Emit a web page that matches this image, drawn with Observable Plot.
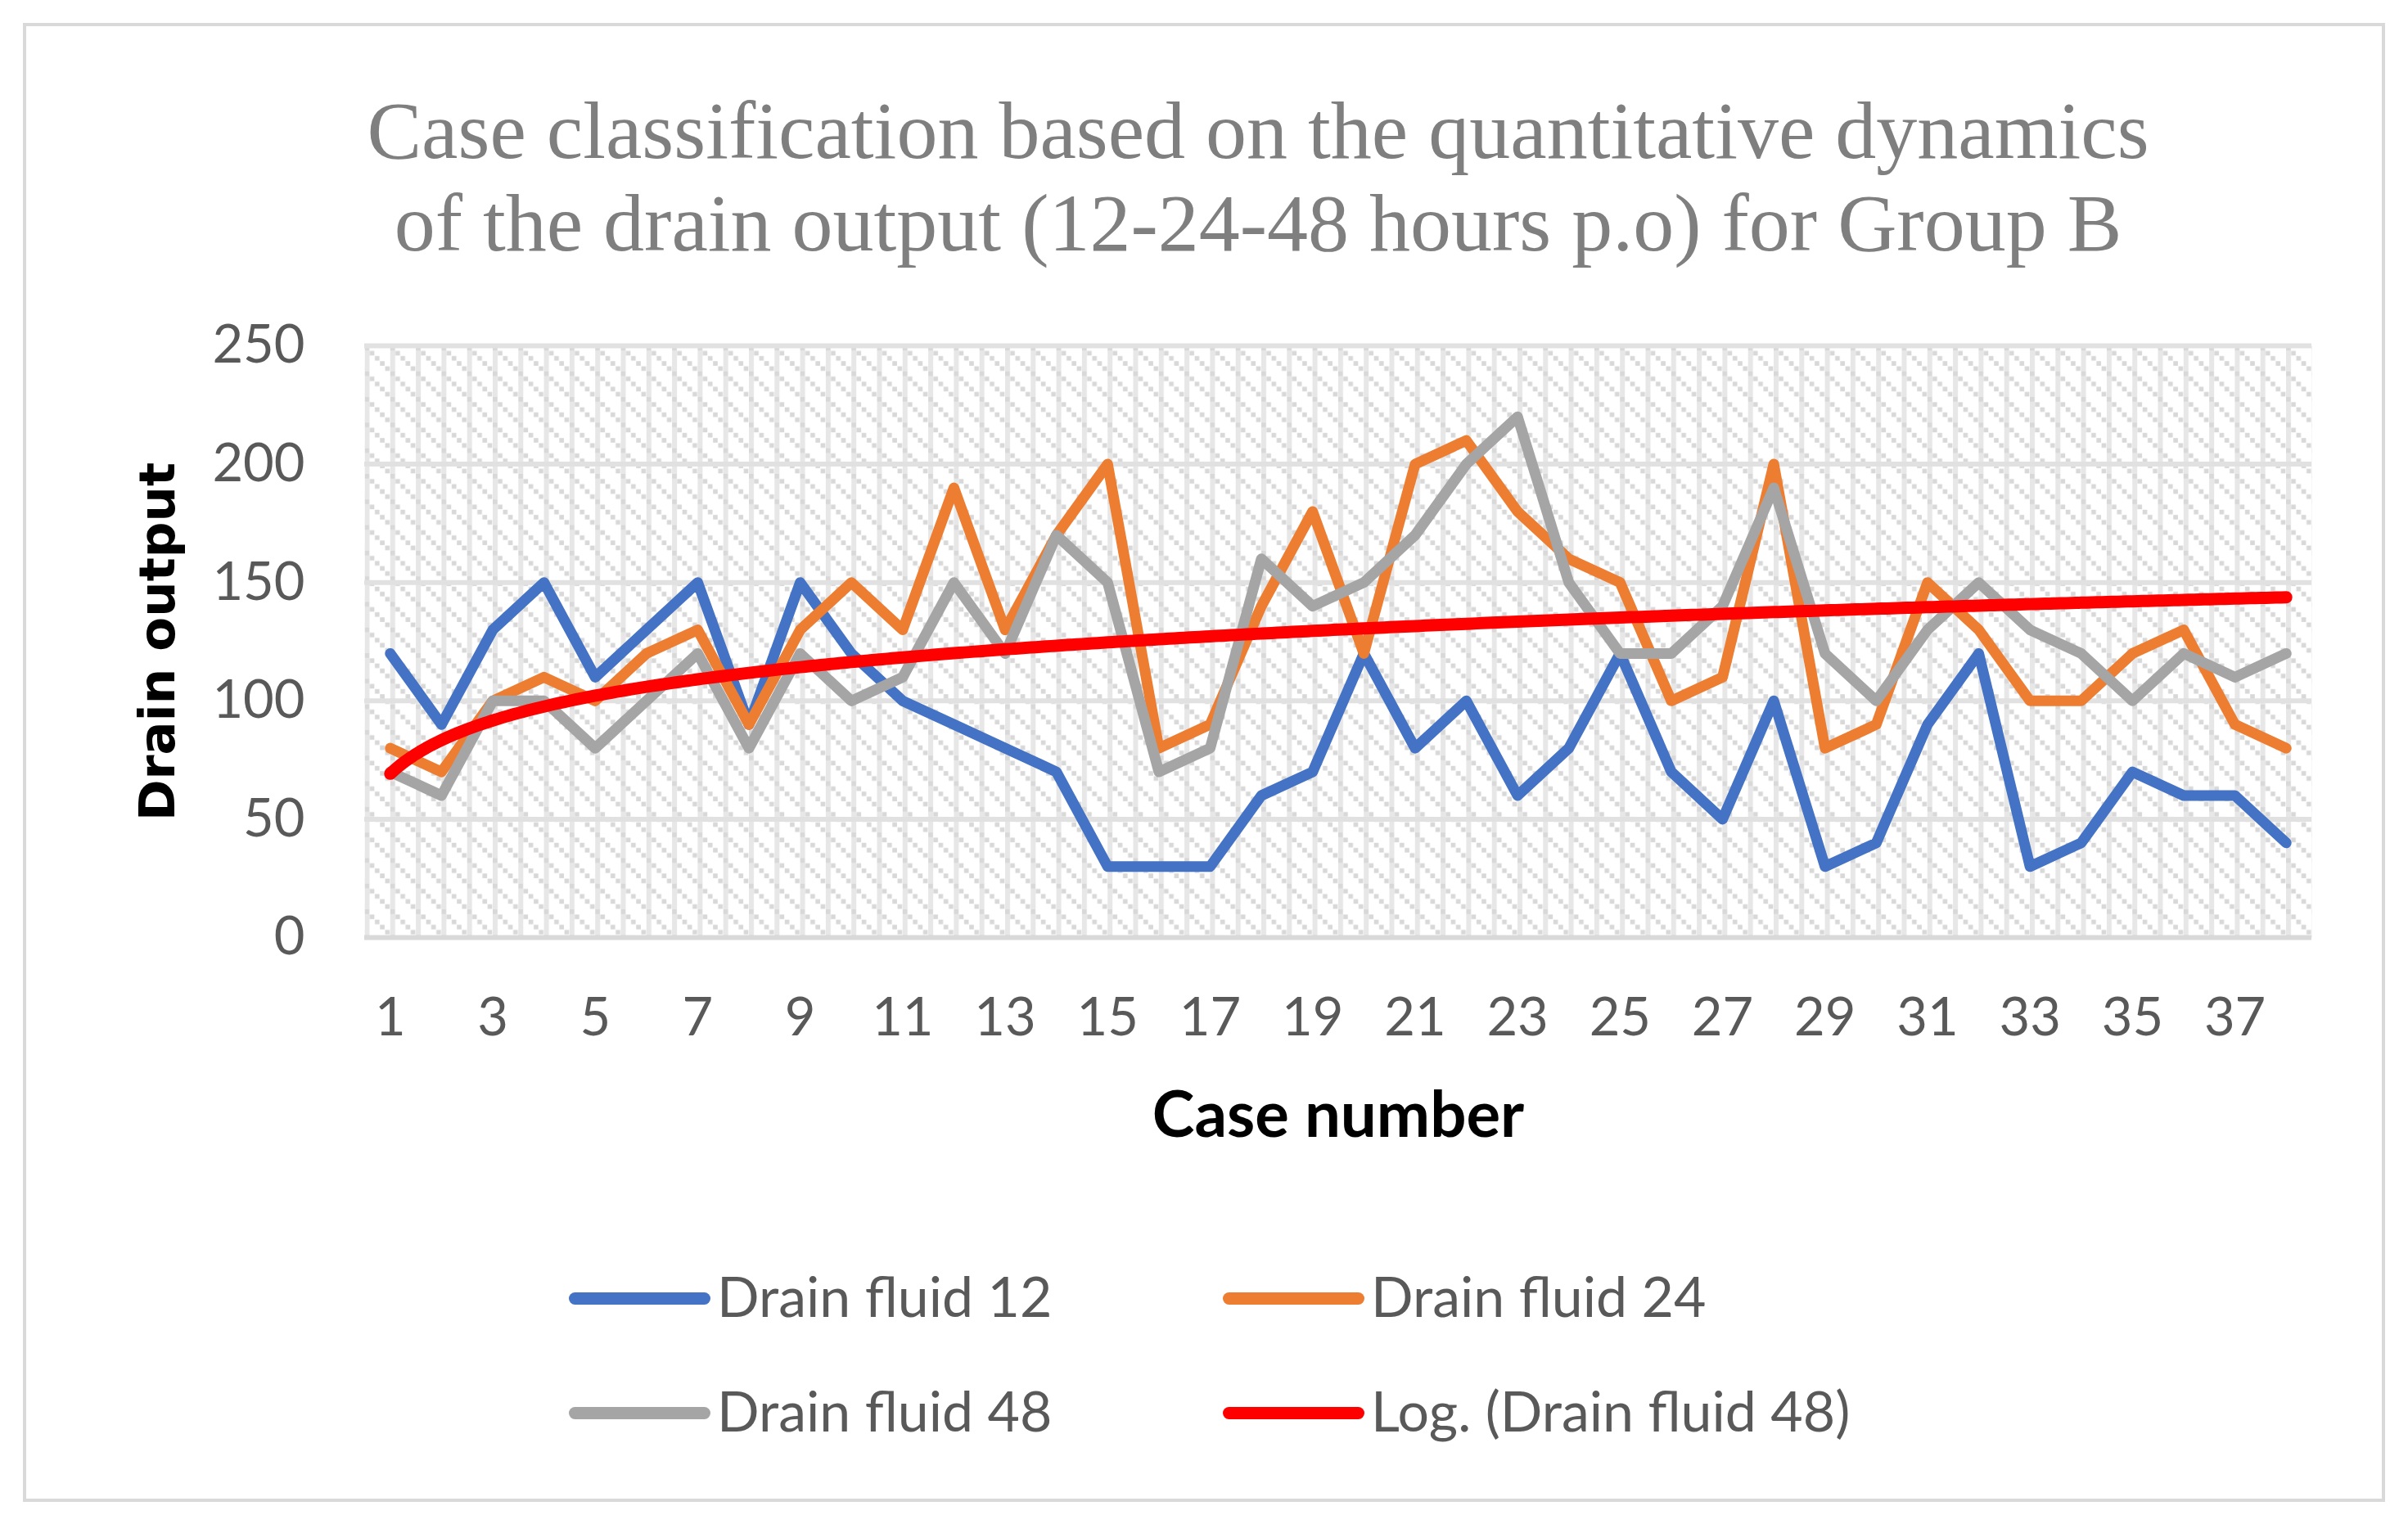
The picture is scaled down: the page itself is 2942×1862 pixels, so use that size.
<!DOCTYPE html>
<html>
<head>
<meta charset="utf-8">
<script src="https://cdn.jsdelivr.net/npm/d3@7"></script>
<script src="https://cdn.jsdelivr.net/npm/@observablehq/plot@0.6"></script>
<style>
  html, body { margin: 0; padding: 0; background: #fff; }
  #wrap { position: relative; width: 2942px; height: 1862px; overflow: hidden; background: #fff; }
  #border { position: absolute; left: 28px; top: 28px; width: 2886px; height: 1807px; border: 4px solid #d9d9d9; box-sizing: border-box; }
  .title { position: absolute; left: 1537px; transform: translateX(-50%); white-space: nowrap;
           font-family: "Liberation Serif", "Times New Roman", serif; font-size: 100px; line-height: 113px;
           color: #7f7f7f; text-align: center; }
  #chart { position: absolute; left: 0; top: 330px; }
  .leg { position: absolute; height: 80px; display: flex; align-items: center; white-space: nowrap;
         font-family: Lato, sans-serif; font-size: 68px; color: #595959; }
  .sw { width: 173px; height: 15px; border-radius: 8px; margin-right: 8px; flex: none; position: relative; top: 4px; }
</style>
</head>
<body>
<div id="wrap">
  <div id="border"></div>
  <div class="title" style="top:103px">Case classification based on the quantitative dynamics<br>of the drain output (12-24-48 hours p.o) for Group B</div>
  <div id="chart"></div>
  <div id="legend"></div>
</div>
<script>
// ---- data ----
const cases = [1,2,3,4,5,6,7,8,9,10,11,12,13,14,15,16,17,18,19,20,21,22,23,24,25,26,27,28,29,30,31,32,33,34,35,36,37,38];
const fluid12 = [120,90,130,150,110,130,150,90,150,120,100,90,80,70,30,30,30,60,70,120,80,100,60,80,120,70,50,100,30,40,90,120,30,40,70,60,60,40];
const fluid24 = [80,70,100,110,100,120,130,90,130,150,130,190,130,170,200,80,90,140,180,120,200,210,180,160,150,100,110,200,80,90,150,130,100,100,120,130,90,80];
const fluid48 = [70,60,100,100,80,100,120,80,120,100,110,150,120,170,150,70,80,160,140,150,170,200,220,150,120,120,140,190,120,100,130,150,130,120,100,120,110,120];
const xTicks = [1,3,5,7,9,11,13,15,17,19,21,23,25,27,29,31,33,35,37];
const yTicks = [0,50,100,150,200,250];
const seriesNames = ["Drain fluid 12","Drain fluid 24","Drain fluid 48","Log. (Drain fluid 48)"];
const seriesColors = ["#4472c4","#ed7d31","#a5a5a5","#ff0000"];

const toRows = arr => cases.map((c, i) => ({case: c, value: arr[i]}));
const rows12 = toRows(fluid12), rows24 = toRows(fluid24), rows48 = toRows(fluid48);

// logarithmic trendline (least squares fit of Drain fluid 48 on ln(case)), as Excel does
const lx = cases.map(Math.log);
const mx = d3.mean(lx), my = d3.mean(fluid48);
const slope = d3.sum(lx, (v, i) => (v - mx) * (fluid48[i] - my)) / d3.sum(lx, v => (v - mx) ** 2);
const intercept = my - slope * mx;
const trendX = d3.range(1, 38.0001, 0.1);
const trendRows = trendX.map(x => ({case: x, value: intercept + slope * Math.log(x)}));

const W = 2942, H = 1110;
const mL = 445, mR = 118, mT = 92, mB = 295;

const svg = Plot.plot({
  width: W, height: H,
  marginLeft: mL, marginRight: mR, marginTop: mT, marginBottom: mB,
  style: {fontFamily: "Lato, sans-serif", fontSize: "65px", color: "#595959", background: "transparent", overflow: "visible"},
  x: {type: "linear", domain: [0.5, 38.5]},
  y: {domain: [0, 250]},
  marks: [
    Plot.frame({fill: "url(#hatch)", stroke: null}),
    Plot.ruleY(yTicks.filter(d => d > 0), {stroke: "#e1e1e1", strokeWidth: 6}),
    Plot.ruleY([0], {stroke: "#d9d9d9", strokeWidth: 6}),
    Plot.axisX({ticks: xTicks, tickSize: 0, tickPadding: 73, tickFormat: d => String(d), label: null}),
    Plot.axisY({ticks: yTicks, tickSize: 0, tickPadding: 73, label: null}),
    Plot.line(rows12, {x: "case", y: "value", stroke: seriesColors[0], strokeWidth: 13, strokeLinejoin: "round", strokeLinecap: "round"}),
    Plot.line(rows24, {x: "case", y: "value", stroke: seriesColors[1], strokeWidth: 13, strokeLinejoin: "round", strokeLinecap: "round"}),
    Plot.line(rows48, {x: "case", y: "value", stroke: seriesColors[2], strokeWidth: 13, strokeLinejoin: "round", strokeLinecap: "round"}),
    Plot.line(trendRows, {x: "case", y: "value", stroke: seriesColors[3], strokeWidth: 15, strokeLinecap: "round", curve: "linear"}),
    Plot.text(["Drain output"], {frameAnchor: "left", dx: -252, rotate: -90, textAnchor: "middle", lineAnchor: "middle",
      fontFamily: "DejaVu Sans, Verdana, sans-serif", fontWeight: "bold", fontSize: 61, fill: "#000"}),
    Plot.text(["Case number"], {frameAnchor: "bottom", dy: 219, textAnchor: "middle", lineAnchor: "middle",
      fontFamily: "Lato, sans-serif", fontWeight: "bold", fontSize: 78, fill: "#000"})
  ]
});

// hatch pattern for the plot area
const ns = "http://www.w3.org/2000/svg";
const defs = document.createElementNS(ns, "defs");
const t = 31.3, step = t / 5;
let sq = "";
for (let i = 0; i < 5; i++) sq += `<rect x="${(i * step).toFixed(2)}" y="${(i * step).toFixed(2)}" width="5.6" height="5.6" fill="#d8d8d8"/>`;
defs.innerHTML = `<pattern id="hatch" patternUnits="userSpaceOnUse" x="${mL}" y="${mT}" width="${t}" height="${t}">
  <rect width="${t}" height="${t}" fill="#ffffff"/>
  <rect x="0" y="0" width="6" height="${t}" fill="#e7e7e7"/>
  ${sq}
</pattern>`;
svg.insertBefore(defs, svg.firstChild);
document.getElementById("chart").appendChild(svg);

// legend
const legPos = [[695, 1582], [1494, 1582], [695, 1722], [1494, 1722]];
const leg = document.getElementById("legend");
seriesNames.forEach((name, i) => {
  const d = document.createElement("div");
  d.className = "leg";
  d.style.left = legPos[i][0] + "px";
  d.style.top = (legPos[i][1] - 40) + "px";
  const s = document.createElement("div");
  s.className = "sw";
  s.style.background = seriesColors[i];
  const tx = document.createElement("span");
  tx.textContent = name;
  d.appendChild(s); d.appendChild(tx);
  leg.appendChild(d);
});
</script>
</body>
</html>
